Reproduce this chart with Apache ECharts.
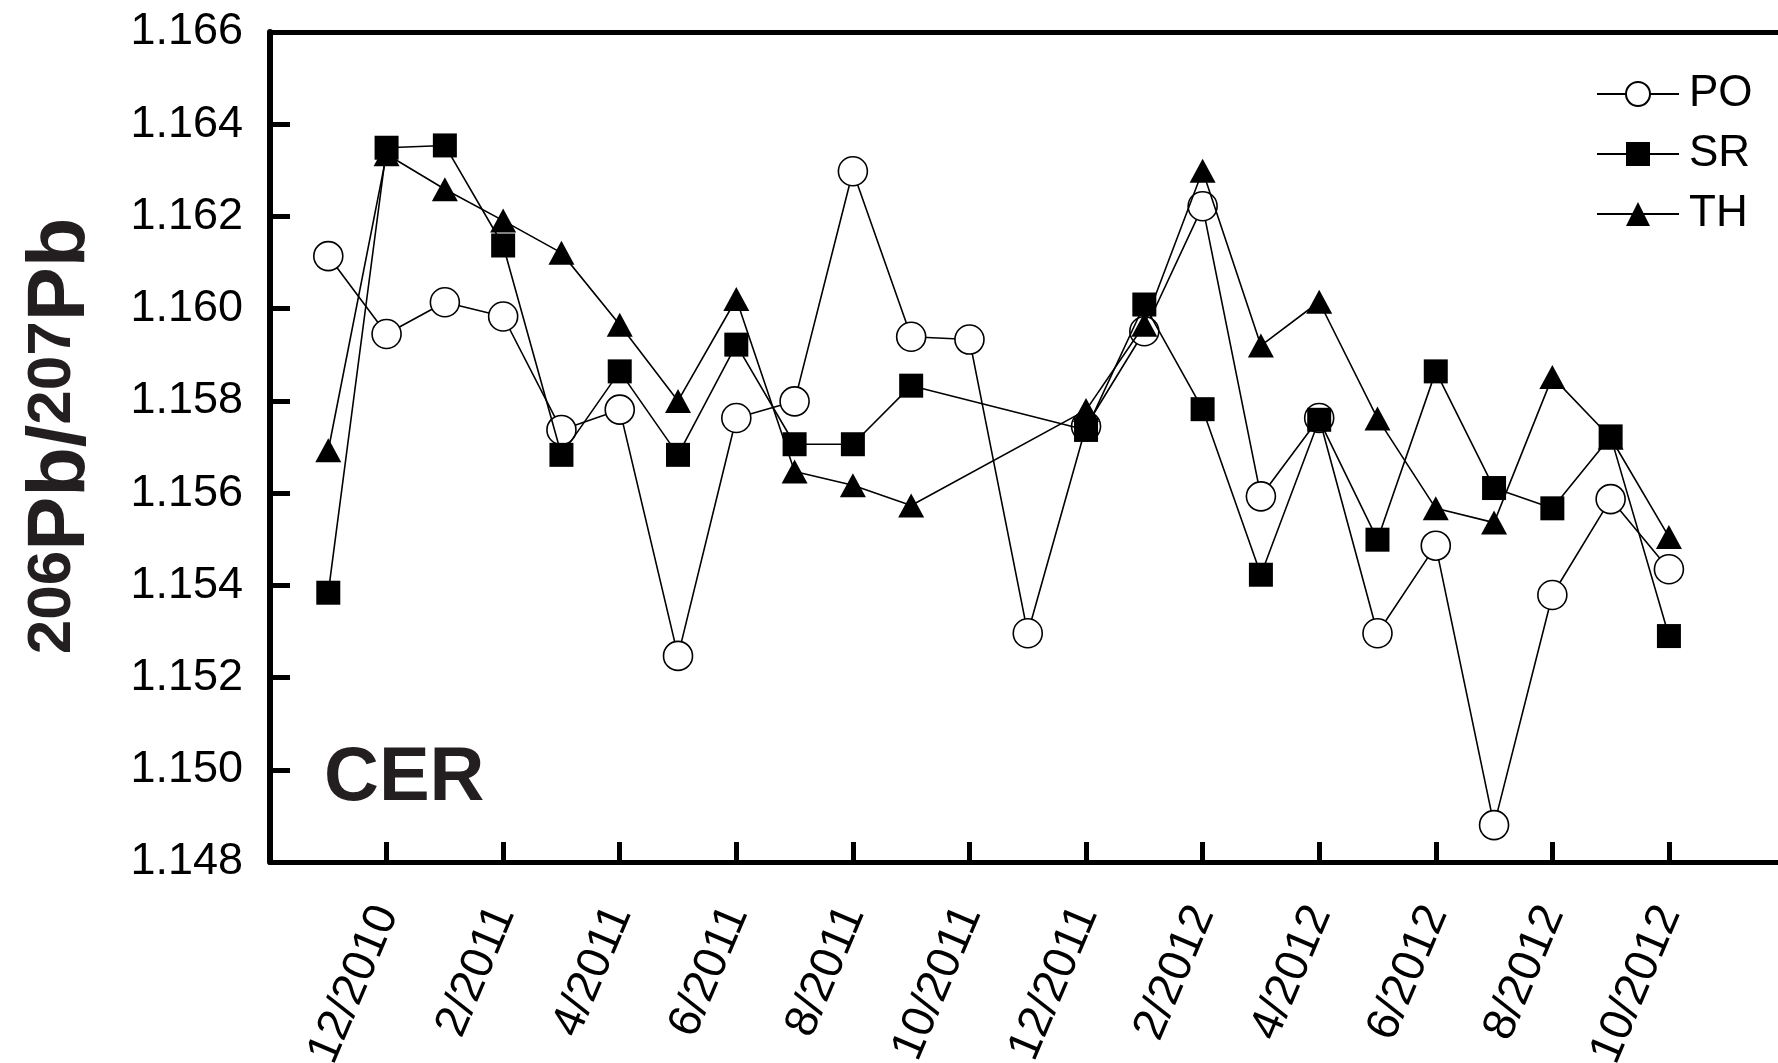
<!DOCTYPE html>
<html>
<head>
<meta charset="utf-8">
<script src="https://cdn.jsdelivr.net/npm/echarts@6/dist/echarts.min.js"></script>
<style>
html,body{margin:0;padding:0;background:#fff;}
#chart{width:1778px;height:1063px;}
</style>
</head>
<body>
<div id="chart"></div>
<script>
// Monthly samples (11/2010 .. 10/2012)
var months = ['11/2010','12/2010','1/2011','2/2011','3/2011','4/2011','5/2011','6/2011','7/2011','8/2011','9/2011','10/2011',
              '11/2011','12/2011','1/2012','2/2012','3/2012','4/2012','5/2012','6/2012','7/2012','8/2012','9/2012','10/2012'];
var PO = [1.16114, 1.15945, 1.16014, 1.15983, 1.15737, 1.15781, 1.15247, 1.15763, 1.15799, 1.16298, 1.15939, 1.15933,
          1.15296, 1.15745, 1.15951, 1.16222, 1.15593, 1.15763, 1.15296, 1.15486, 1.14880, 1.15379, 1.15587, 1.15435];
var SR = [1.15384, 1.16349, 1.16354, 1.16137, 1.15683, 1.15864, 1.15683, 1.15922, 1.15706, 1.15706, 1.15833, null,
          null, 1.15737, 1.16009, 1.15782, 1.15423, 1.15759, 1.15499, 1.15864, 1.15611, 1.15567, 1.15723, 1.15290];
var TH = [1.15693, 1.16335, 1.16259, 1.16191, 1.16121, 1.15965, 1.15800, 1.16021, 1.15647, 1.15617, 1.15573, null,
          null, 1.15780, 1.15965, 1.16299, 1.15920, 1.16015, 1.15762, 1.15567, 1.15536, 1.15852, 1.15720, 1.15505];
// x tick labels (every two months, starting 12/2010)
var tickLabels = ['12/2010','2/2011','4/2011','6/2011','8/2011','10/2011','12/2011','2/2012','4/2012','6/2012','8/2012','10/2012'];

var FONT = "'Liberation Sans', Arial, sans-serif";

function toPairs(arr){
  // x = month position counted from 10/2010 (0)
  return arr.map(function(v,i){ return [i+1, v]; });
}

var chart = echarts.init(document.getElementById('chart'), null, {renderer:'canvas'});
var option = {
  animation:false,
  backgroundColor:'#fff',
  grid:{left:270, width:1515.5, top:32, bottom:201, containLabel:false, outerBoundsMode:'none'},
  xAxis:[{
    type:'value', min:0, max:26, interval:2,
    axisLine:{show:true, onZero:false, lineStyle:{color:'#000', width:5}},
    axisTick:{show:true, inside:true, length:20, lineStyle:{color:'#000', width:5}},
    splitLine:{show:false},
    axisLabel:{
      rotate:67, margin:46, fontSize:46, color:'#000', fontFamily:FONT,
      formatter:function(v){
        var k = Math.round(v);
        if (k % 2 !== 0) return '';
        var idx = k/2 - 1;
        return (idx >= 0 && idx < tickLabels.length) ? tickLabels[idx] : '';
      }
    }
  },{
    type:'value', position:'top', min:0, max:26,
    axisLine:{show:true, lineStyle:{color:'#000', width:5}},
    axisTick:{show:false}, axisLabel:{show:false}, splitLine:{show:false}
  }],
  yAxis:{
    type:'value', min:1.148, max:1.166, interval:0.002,
    axisLine:{show:true, lineStyle:{color:'#000', width:6}},
    axisTick:{show:true, inside:true, length:20, lineStyle:{color:'#000', width:5}},
    splitLine:{show:false},
    axisLabel:{margin:27, fontSize:45, color:'#000', fontFamily:FONT,
      formatter:function(v){ return v.toFixed(3); }}
  },
  legend:{
    orient:'vertical', left:1596, top:72, padding:0,
    itemWidth:82, itemHeight:30, itemGap:16,
    data:['PO','SR','TH'],
    textStyle:{fontSize:44, color:'#000', fontFamily:FONT, padding:[0,0,0,5]}
  },
  graphic:[{
    type:'text', x:62, y:436, rotation:Math.PI/2,
    style:{
      text:'{s|206}{m|Pb/}{s|207}{m|Pb}',
      textAlign:'center', textVerticalAlign:'middle',
      fill:'#231f20',
      rich:{
        s:{fontSize:62, fontWeight:'bold', fontFamily:FONT, lineHeight:62, verticalAlign:'top', fill:'#231f20'},
        m:{fontSize:81, fontWeight:'bold', fontFamily:FONT, lineHeight:81, fill:'#231f20'}
      }
    }
  },{
    type:'text', x:324, y:779,
    style:{text:'CER', fontSize:76, fontWeight:'bold', fontFamily:FONT, fill:'#231f20',
      textAlign:'left', textVerticalAlign:'middle'}
  }],
  series:[{
    name:'PO', type:'line', z:2, data:toPairs(PO), connectNulls:true,
    symbol:'circle', symbolSize:29,
    itemStyle:{color:'#fff', borderColor:'#000', borderWidth:1.6},
    lineStyle:{color:'#000', width:1.6}
  },{
    name:'SR', type:'line', z:4, data:toPairs(SR), connectNulls:true,
    symbol:'rect', symbolSize:24,
    itemStyle:{color:'#000', borderColor:'#000', borderWidth:0},
    lineStyle:{color:'#000', width:1.6}
  },{
    name:'TH', type:'line', z:3, data:toPairs(TH), connectNulls:true,
    symbol:'triangle', symbolSize:[26,24],
    itemStyle:{color:'#000', borderColor:'#000', borderWidth:0},
    lineStyle:{color:'#000', width:1.6}
  }]
};
chart.setOption(option);
</script>
</body>
</html>
